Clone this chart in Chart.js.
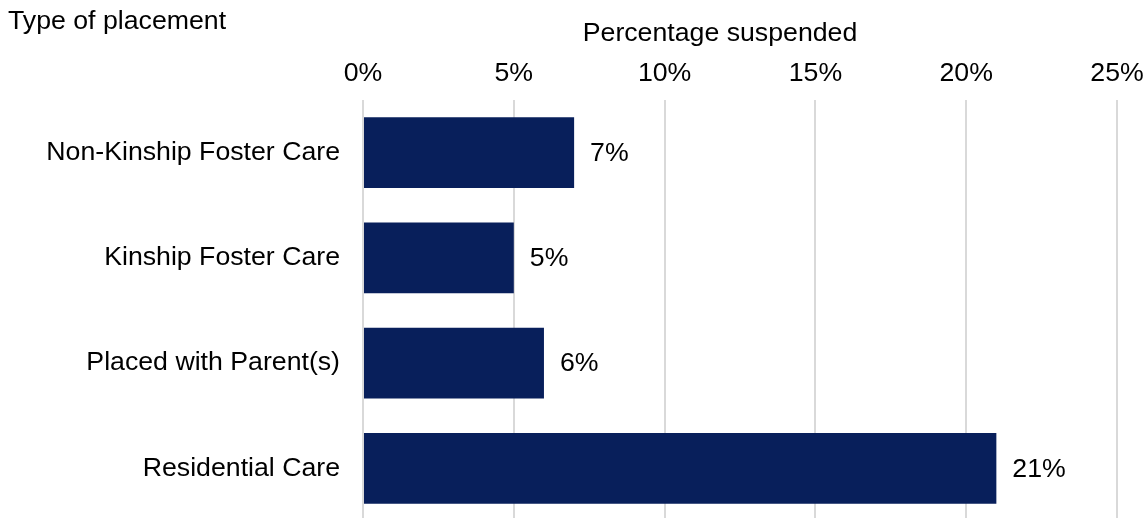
<!DOCTYPE html>
<html>
<head>
<meta charset="utf-8">
<script src="https://cdn.jsdelivr.net/npm/chart.js@4.4.1/dist/chart.umd.min.js"></script>
<style>
  html, body { margin: 0; padding: 0; background: #fff; overflow: hidden; }
  canvas { display: block; }
</style>
</head>
<body>
<canvas id="c" width="1148" height="522" style="width:1148px;height:522px"></canvas>
<script>
const categories = ["Non-Kinship Foster Care", "Kinship Foster Care", "Placed with Parent(s)", "Residential Care"];
const percentSuspended = [7, 5, 6, 21];
const valueLabels = ["7%", "5%", "6%", "21%"];
const xTicks = [0, 5, 10, 15, 20, 25];
const yAxisTitle = "Type of placement";
const xAxisTitle = "Percentage suspended";

const FONT = "'Liberation Sans', Arial, sans-serif";
const FS = 26.7;

const textPlugin = {
  id: 'texts',
  afterDatasetsDraw(chart) {
    const ctx = chart.ctx;
    ctx.save();
    ctx.fillStyle = '#000';
    ctx.font = FS + 'px ' + FONT;
    ctx.textBaseline = 'middle';
    ctx.textAlign = 'left';
    const meta = chart.getDatasetMeta(0);
    meta.data.forEach((bar, i) => {
      ctx.fillText(valueLabels[i], bar.x + 16, bar.y + 1);
    });
    ctx.restore();
  },
  afterDraw(chart) {
    const ctx = chart.ctx;
    ctx.save();
    ctx.fillStyle = '#000';
    ctx.font = FS + 'px ' + FONT;
    ctx.textBaseline = 'middle';
    ctx.textAlign = 'left';
    ctx.fillText(yAxisTitle, 8, 22);
    ctx.textAlign = 'center';
    ctx.fillText(xAxisTitle, 720, 34);
    ctx.restore();
  }
};

new Chart(document.getElementById('c'), {
  type: 'bar',
  data: {
    labels: categories,
    datasets: [{
      data: percentSuspended,
      backgroundColor: '#081f5b',
      barPercentage: 0.67,
      categoryPercentage: 1.0
    }]
  },
  options: {
    indexAxis: 'y',
    responsive: false,
    maintainAspectRatio: false,
    devicePixelRatio: 1,
    animation: false,
    layout: { padding: { left: 0, right: 31, top: 0, bottom: 1 } },
    plugins: { legend: { display: false }, tooltip: { enabled: false } },
    scales: {
      x: {
        position: 'top',
        min: 0,
        max: 25,
        afterBuildTicks(scale) { scale.ticks = xTicks.map(v => ({ value: v })); },
        afterFit(scale) {
          scale.height = 100;
          scale.paddingLeft = 0; scale.paddingRight = 0;
        },
        grid: { color: '#d9d9d9', lineWidth: 2, drawTicks: false },
        border: { display: false },
        ticks: {
          padding: 10,
          color: '#000',
          font: { family: FONT, size: FS },
          callback: v => v + '%'
        }
      },
      y: {
        afterFit(scale) {
          scale.width = 363;
          scale.paddingTop = 0; scale.paddingBottom = 0;
        },
        grid: { display: false, drawTicks: false },
        border: { display: false },
        ticks: {
          padding: 23,
          color: '#000',
          font: { family: FONT, size: FS }
        }
      }
    }
  },
  plugins: [textPlugin]
});
</script>
</body>
</html>
